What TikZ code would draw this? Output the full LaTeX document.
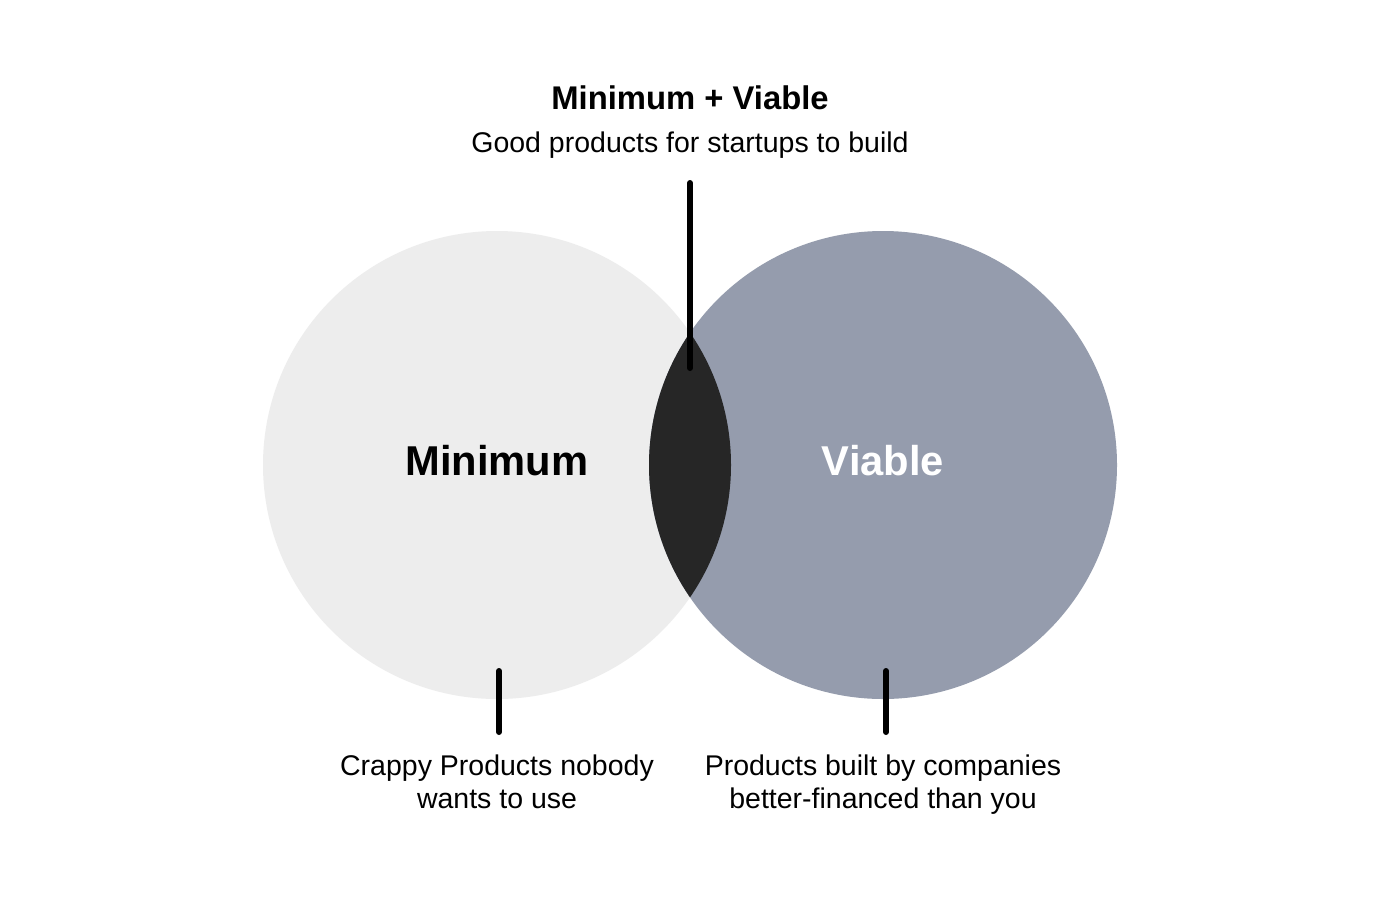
\documentclass[tikz,border=0pt]{standalone}
\usepackage{fontspec}
\setmainfont{Liberation Sans}
\definecolor{minfill}{HTML}{EDEDED}
\definecolor{viafill}{HTML}{959CAD}
\definecolor{bothfill}{HTML}{262626}
\begin{document}
\begin{tikzpicture}[x=1pt,y=-1pt,
  blob/.style={circle,inner sep=0,minimum size=468pt},
  stem/.style={line width=6pt,line cap=round},
  caption/.style={align=center,font=\fontsize{28.5}{33}\selectfont,anchor=base}]
\useasboundingbox[fill=white] (0,0) rectangle (1384,900);
\node[blob,fill=minfill] (min) at (497,465) {};
\node[blob,fill=viafill] (via) at (883,465) {};
\begin{scope}
\clip (min.center) circle (234);
\fill[bothfill] (via.center) circle (234);
\end{scope}
\node[font=\fontsize{41.7}{44}\selectfont\bfseries] (minlabel) at (497,461) {Minimum};
\node[font=\fontsize{41.7}{44}\selectfont\bfseries,text=white] (vialabel) at (883,461) {Viable};
\node[font=\fontsize{32.8}{36}\selectfont\bfseries] (title) at (690,98) {Minimum + Viable};
\node[caption] (sub) at (690,152) {Good products for startups to build};
\node[caption] (crappy) at (497,808) {Crappy Products nobody\\wants to use};
\node[caption] (funded) at (883,808) {Products built by companies\\better-financed than you};
% stems
\coordinate (topA) at (690,183);
\coordinate (topB) at (690,368);
\coordinate (minA) at (499,671);
\coordinate (minB) at (499,732);
\coordinate (viaA) at (886,671);
\coordinate (viaB) at (886,732);
\draw[stem] (topA) -- (topB);
\draw[stem] (minA) -- (minB);
\draw[stem] (viaA) -- (viaB);
\end{tikzpicture}
\end{document}
